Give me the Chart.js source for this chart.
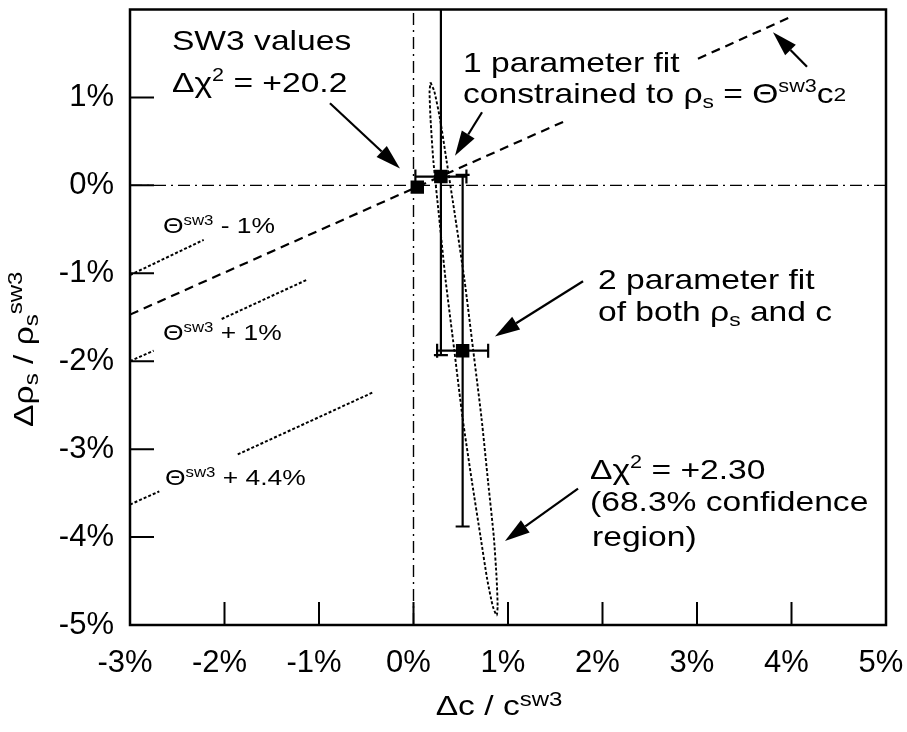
<!DOCTYPE html>
<html>
<head>
<meta charset="utf-8">
<script src="https://cdn.jsdelivr.net/npm/chart.js@4.4.1/dist/chart.umd.min.js"></script>
<style>
  html, body { margin: 0; padding: 0; background: #fff; }
  #wrap { width: 907px; height: 732px; }
</style>
</head>
<body>
<div id="wrap"><canvas id="myChart" width="907" height="732"></canvas></div>
<script>
// values, all in percent
const xTickValues = [-3, -2, -1, 0, 1, 2, 3, 4, 5];
const yTickValues = [-5, -4, -3, -2, -1, 0, 1, 2];

// SW3 values, 1 parameter fit, 2 parameter fit
const fitDc = [0.04, 0.29, 0.52];
const fitDrho = [-0.02, 0.10, -1.88];
const errDc = [0, 0.27, 0.27];
const errDrho = [0, 2.03, 2.00];

// rho_s = Theta c^2 line, broken where the text sits
const thetaLineX = [-3, 1.60];
const thetaLineY = [-1.47, 0.73];
const thetaLine2X = [3.01, 3.98];
const thetaLine2Y = [1.44, 1.91];

// Theta - 1%, Theta + 1%, Theta + 4.4%
const thetaM1X = [-3, -2.22];
const thetaM1Y = [-1.02, -0.62];
const thetaP1aX = [-3, -2.75];
const thetaP1aY = [-2.00, -1.88];
const thetaP1bX = [-2.03, -1.12];
const thetaP1bY = [-1.52, -1.07];
const thetaP44aX = [-3, -2.69];
const thetaP44aY = [-3.63, -3.48];
const thetaP44bX = [-1.86, -0.42];
const thetaP44bY = [-3.06, -2.35];

// zero lines
const zeroVX = [0, 0];
const zeroVY = [-5, 2];
const zeroHX = [-3, 5];
const zeroHY = [0, 0];

// delta chi^2 = 2.30 contour
const ellipseX = [0.18, 0.22, 0.28, 0.35, 0.44, 0.54, 0.63, 0.72, 0.79, 0.85, 0.88, 0.89, 0.88,
                  0.84, 0.78, 0.71, 0.62, 0.52, 0.43, 0.34, 0.27, 0.21, 0.18, 0.17, 0.18];
const ellipseY = [1.17, 1.07, 0.76, 0.28, -0.35, -1.08, -1.86, -2.65, -3.38, -4.00, -4.48, -4.79, -4.89,
                  -4.79, -4.48, -4.00, -3.38, -2.65, -1.86, -1.08, -0.35, 0.28, 0.76, 1.07, 1.17];

const FONT = '"Liberation Sans", Arial, sans-serif';
const SX = 1.2; // the scanned lettering is wider than Arial

const pts = (xs, ys) => xs.map((x, i) => ({ x: x, y: ys[i] }));

function lineSet(xs, ys, dash, width, tension) {
    return {
        data: pts(xs, ys),
        showLine: true,
        borderColor: "#000",
        borderWidth: width,
        borderDash: dash,
        pointRadius: 0,
        pointHoverRadius: 0,
        fill: false,
        tension: tension || 0,
    };
}

// text pieces: [text, size, dy]
const N = (t) => [t, 28, 0];
const SUP = (t) => [t, 18, -11];
const SUB = (t) => [t, 19, 5];
const TN = (t) => [t, 22, 0];
const TSUP = (t) => [t, 14, -8];

const labels = [
    { x: -2.556, y: 1.539, parts: [N("SW3 values")] },
    { x: -2.556, y: 1.067, parts: [N("\u0394\u03c7"), SUP("2"), N(" = +20.2")] },
    { x: 0.524, y: 1.292, parts: [N("1 parameter fit")] },
    { x: 0.524, y: 0.933, parts: [N("constrained to \u03c1"), SUB("s"), N(" = \u0398"), SUP("sw3"), N("c"), ["2", 19, -2]] },
    { x: 1.952, y: -1.180, parts: [N("2 parameter fit")] },
    { x: 1.952, y: -1.539, parts: [N("of both \u03c1"), SUB("s"), N(" and c")] },
    { x: 1.868, y: -3.337, parts: [N("\u0394\u03c7"), SUP("2"), N(" = +2.30")] },
    { x: 1.868, y: -3.708, parts: [N("(68.3% confidence")] },
    { x: 1.889, y: -4.101, parts: [N("region)")] },
    { x: -2.651, y: -0.539, parts: [TN("\u0398"), TSUP("sw3"), TN(" - 1%")] },
    { x: -2.651, y: -1.764, parts: [TN("\u0398"), TSUP("sw3"), TN(" + 1%")] },
    { x: -2.630, y: -3.404, parts: [TN("\u0398"), TSUP("sw3"), TN(" + 4.4%")] },
];

// arrows: from (x0,y0) to tip (x1,y1)
const arrows = [
    [-0.884, 0.933, -0.143, 0.191],
    [0.725, 0.831, 0.439, 0.337],
    [4.164, 1.348, 3.804, 1.742],
    [1.794, -1.090, 0.862, -1.719],
    [1.741, -3.449, 0.968, -4.045],
];

function drawRich(ctx, parts, x, y, rotate, center) {
    ctx.save();
    ctx.translate(x, y);
    if (rotate) ctx.rotate(rotate);
    ctx.scale(SX, 1);
    ctx.fillStyle = "#000";
    ctx.textBaseline = "alphabetic";
    ctx.textAlign = "left";
    let w = 0;
    parts.forEach((p) => {
        ctx.font = p[1] + "px " + FONT;
        w += ctx.measureText(p[0]).width;
    });
    let cx = center ? -w / 2 : 0;
    parts.forEach((p) => {
        ctx.font = p[1] + "px " + FONT;
        ctx.fillText(p[0], cx, p[2]);
        cx += ctx.measureText(p[0]).width;
    });
    ctx.restore();
}

const errorBars = {
    id: "errorBars",
    beforeDatasetsDraw(chart) {
        const { ctx, chartArea, scales } = chart;
        ctx.save();
        ctx.beginPath();
        ctx.rect(chartArea.left, chartArea.top, chartArea.right - chartArea.left, chartArea.bottom - chartArea.top);
        ctx.clip();
        ctx.strokeStyle = "#000";
        ctx.lineWidth = 2.2;
        for (let i = 0; i < fitDc.length; i++) {
            const px = scales.x.getPixelForValue(fitDc[i]);
            const py = scales.y.getPixelForValue(fitDrho[i]);
            if (errDrho[i] > 0) {
                const t = scales.y.getPixelForValue(fitDrho[i] + errDrho[i]);
                const b = scales.y.getPixelForValue(fitDrho[i] - errDrho[i]);
                ctx.beginPath();
                ctx.moveTo(px, t); ctx.lineTo(px, b);
                ctx.moveTo(px - 7, t); ctx.lineTo(px + 7, t);
                ctx.moveTo(px - 7, b); ctx.lineTo(px + 7, b);
                ctx.stroke();
            }
            if (errDc[i] > 0) {
                const l = scales.x.getPixelForValue(fitDc[i] - errDc[i]);
                const r = scales.x.getPixelForValue(fitDc[i] + errDc[i]);
                ctx.beginPath();
                ctx.moveTo(l, py); ctx.lineTo(r, py);
                ctx.moveTo(l, py - 7); ctx.lineTo(l, py + 7);
                ctx.moveTo(r, py - 7); ctx.lineTo(r, py + 7);
                ctx.stroke();
            }
        }
        ctx.restore();
    },
};

const decor = {
    id: "decor",
    afterDraw(chart) {
        const { ctx, chartArea, scales } = chart;
        const { left, right, top, bottom } = chartArea;
        ctx.save();
        ctx.strokeStyle = "#000";
        ctx.fillStyle = "#000";

        // frame
        ctx.lineWidth = 2.5;
        ctx.strokeRect(left, top, right - left, bottom - top);

        // inward ticks
        ctx.lineWidth = 2;
        ctx.beginPath();
        yTickValues.forEach((v) => {
            if (v <= -5 || v >= 2) return;
            const y = scales.y.getPixelForValue(v);
            ctx.moveTo(left, y); ctx.lineTo(left + 24, y);
        });
        xTickValues.forEach((v) => {
            if (v <= -3 || v >= 5) return;
            const x = scales.x.getPixelForValue(v);
            ctx.moveTo(x, bottom); ctx.lineTo(x, bottom - 23);
        });
        ctx.stroke();

        // arrows
        arrows.forEach((a) => {
            const x0 = scales.x.getPixelForValue(a[0]);
            const y0 = scales.y.getPixelForValue(a[1]);
            const x1 = scales.x.getPixelForValue(a[2]);
            const y1 = scales.y.getPixelForValue(a[3]);
            const ang = Math.atan2(y1 - y0, x1 - x0);
            const hl = 25, hw = 7.5;
            const bx = x1 - hl * Math.cos(ang), by = y1 - hl * Math.sin(ang);
            ctx.lineWidth = 2.2;
            ctx.beginPath();
            ctx.moveTo(x0, y0); ctx.lineTo(bx, by);
            ctx.stroke();
            ctx.beginPath();
            ctx.moveTo(x1, y1);
            ctx.lineTo(bx + hw * Math.sin(ang), by - hw * Math.cos(ang));
            ctx.lineTo(bx - hw * Math.sin(ang), by + hw * Math.cos(ang));
            ctx.closePath();
            ctx.fill();
        });

        // annotations
        labels.forEach((lb) => {
            drawRich(ctx, lb.parts, scales.x.getPixelForValue(lb.x), scales.y.getPixelForValue(lb.y));
        });

        // axis titles
        drawRich(ctx, [N("\u0394c / c"), ["sw3", 20, -9]], (left + right) / 2 - 9, 715, 0, true);
        drawRich(ctx, [N("\u0394\u03c1"), ["s", 20, 5], N(" / \u03c1"), ["s", 20, 5], ["sw3", 20, -11]],
            33, (top + bottom) / 2 + 32, -Math.PI / 2, true);
        ctx.restore();
    },
};

const ctx = document.querySelector("#myChart");
const dashDot = [12, 5, 2, 5];

new Chart(ctx, {
    type: "scatter",
    data: {
        datasets: [
            lineSet(zeroVX, zeroVY, dashDot, 1.4),
            lineSet(zeroHX, zeroHY, dashDot, 1.4),
            lineSet(thetaLineX, thetaLineY, [9, 6], 2.2),
            lineSet(thetaLine2X, thetaLine2Y, [9, 6], 2.2),
            lineSet(thetaM1X, thetaM1Y, [3, 2], 2),
            lineSet(thetaP1aX, thetaP1aY, [3, 2], 2),
            lineSet(thetaP1bX, thetaP1bY, [3, 2], 2),
            lineSet(thetaP44aX, thetaP44aY, [3, 2], 2),
            lineSet(thetaP44bX, thetaP44bY, [3, 2], 2),
            lineSet(ellipseX, ellipseY, [3, 2], 1.9, 0.2),
            {
                data: pts(fitDc, fitDrho),
                showLine: false,
                pointStyle: "rect",
                pointRadius: 9.5,
                pointHoverRadius: 9.5,
                backgroundColor: "#000",
                borderColor: "#000",
                borderWidth: 0,
            },
        ],
    },
    options: {
        responsive: false,
        animation: false,
        devicePixelRatio: 1,
        layout: { padding: { top: 2, right: 21, left: 0, bottom: 0 } },
        plugins: { legend: { display: false }, tooltip: { enabled: false } },
        scales: {
            x: {
                type: "linear",
                min: -3,
                max: 5,
                grid: { display: false },
                border: { display: false },
                afterFit: (s) => { s.height = 107; s.paddingLeft = 0; s.paddingRight = 0; },
                ticks: {
                    stepSize: 1,
                    autoSkip: false,
                    maxRotation: 0,
                    padding: 12,
                    labelOffset: -5,
                    color: "#000",
                    font: { family: FONT, size: 31 },
                    callback: (v) => v + "%",
                },
            },
            y: {
                type: "linear",
                min: -5,
                max: 2,
                grid: { display: false },
                border: { display: false },
                afterFit: (s) => { s.width = 130; s.paddingTop = 0; s.paddingBottom = 0; },
                ticks: {
                    stepSize: 1,
                    autoSkip: false,
                    padding: 8,
                    color: "#000",
                    font: { family: FONT, size: 31 },
                    callback: (v) => (v === 2 ? "" : v + "%"),
                },
            },
        },
    },
    plugins: [errorBars, decor],
});
</script>
</body>
</html>
